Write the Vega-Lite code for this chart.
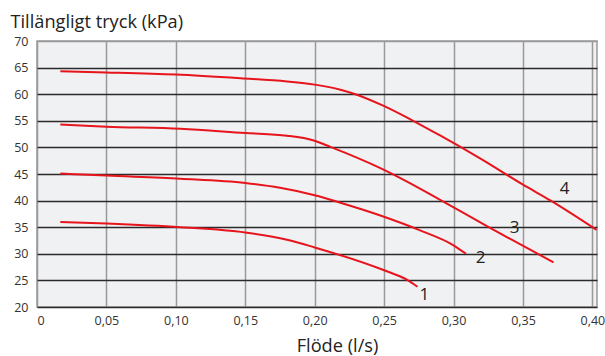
{
  "$schema": "https://vega.github.io/schema/vega-lite/v6.json",
  "autosize": "none",
  "width": 560,
  "height": 266,
  "padding": {"left": 37, "top": 41, "right": 8, "bottom": 49},
  "background": "white",
  "config": {
    "font": "Open Sans",
    "view": {"fill": "#f0f1f3", "stroke": "#9a9a9a", "strokeWidth": 1.5}
  },
  "datasets": {
    "curves": [
      {"curve": "4", "q": 0.0168, "p": 64.3},
      {"curve": "4", "q": 0.05, "p": 64.1},
      {"curve": "4", "q": 0.10, "p": 63.7},
      {"curve": "4", "q": 0.1466, "p": 63.0},
      {"curve": "4", "q": 0.18, "p": 62.4},
      {"curve": "4", "q": 0.20, "p": 61.8},
      {"curve": "4", "q": 0.2185, "p": 60.85},
      {"curve": "4", "q": 0.2293, "p": 60.0},
      {"curve": "4", "q": 0.2497, "p": 57.8},
      {"curve": "4", "q": 0.2702, "p": 55.1},
      {"curve": "4", "q": 0.2906, "p": 52.2},
      {"curve": "4", "q": 0.32, "p": 47.8},
      {"curve": "4", "q": 0.35, "p": 43.0},
      {"curve": "4", "q": 0.37, "p": 40.0},
      {"curve": "4", "q": 0.403, "p": 34.5},
      {"curve": "3", "q": 0.0168, "p": 54.3},
      {"curve": "3", "q": 0.05, "p": 53.9},
      {"curve": "3", "q": 0.1034, "p": 53.5},
      {"curve": "3", "q": 0.15, "p": 52.7},
      {"curve": "3", "q": 0.18, "p": 52.2},
      {"curve": "3", "q": 0.1993, "p": 51.3},
      {"curve": "3", "q": 0.2113, "p": 50.1},
      {"curve": "3", "q": 0.2473, "p": 46.1},
      {"curve": "3", "q": 0.2641, "p": 43.9},
      {"curve": "3", "q": 0.29, "p": 40.2},
      {"curve": "3", "q": 0.324, "p": 35.2},
      {"curve": "3", "q": 0.372, "p": 28.4},
      {"curve": "2", "q": 0.0168, "p": 45.1},
      {"curve": "2", "q": 0.05, "p": 44.7},
      {"curve": "2", "q": 0.1034, "p": 44.1},
      {"curve": "2", "q": 0.15, "p": 43.3},
      {"curve": "2", "q": 0.175, "p": 42.4},
      {"curve": "2", "q": 0.20, "p": 41.0},
      {"curve": "2", "q": 0.2185, "p": 39.6},
      {"curve": "2", "q": 0.2473, "p": 37.2},
      {"curve": "2", "q": 0.275, "p": 34.5},
      {"curve": "2", "q": 0.30, "p": 31.6},
      {"curve": "2", "q": 0.309, "p": 30.0},
      {"curve": "1", "q": 0.0168, "p": 36.0},
      {"curve": "1", "q": 0.05, "p": 35.7},
      {"curve": "1", "q": 0.1034, "p": 35.0},
      {"curve": "1", "q": 0.15, "p": 34.0},
      {"curve": "1", "q": 0.18, "p": 32.65},
      {"curve": "1", "q": 0.20, "p": 31.2},
      {"curve": "1", "q": 0.25, "p": 26.9},
      {"curve": "1", "q": 0.2666, "p": 25.1},
      {"curve": "1", "q": 0.274, "p": 23.8}
    ],
    "labels": [
      {"curve": "1", "q": 0.279, "p": 22.3},
      {"curve": "2", "q": 0.3195, "p": 29.3},
      {"curve": "3", "q": 0.344, "p": 34.9},
      {"curve": "4", "q": 0.38, "p": 42.2}
    ]
  },
  "encoding": {
    "x": {
      "field": "q", "type": "quantitative",
      "scale": {"domain": [0, 0.4033], "nice": false, "zero": false},
      "axis": {
        "values": [0, 0.05, 0.10, 0.15, 0.20, 0.25, 0.30, 0.35, 0.40],
        "labelExpr": "datum.value == 0 ? '0' : replace(format(datum.value, '.2f'), '.', ',')",
        "domain": false, "ticks": false, "labelPadding": 7, "labelOverlap": false,
        "labelFontSize": 12.5, "labelColor": "#333",
        "grid": true, "gridColor": "#9a9a9a", "gridWidth": 1.5, "gridOpacity": 1,
        "title": "Flöde (l/s)", "titleFontSize": 18.2, "titleFontWeight": "normal",
        "titleColor": "#222", "titleX": 300, "titleY": 44, "titleBaseline": "alphabetic", "titleAlign": "center"
      }
    },
    "y": {
      "field": "p", "type": "quantitative",
      "scale": {"domain": [20, 70], "nice": false, "zero": false},
      "axis": {
        "values": [20, 25, 30, 35, 40, 45, 50, 55, 60, 65, 70],
        "domain": false, "ticks": false, "labelPadding": 9, "labelOverlap": false,
        "labelFontSize": 12.5, "labelColor": "#333",
        "grid": true,
        "gridColor": {"condition": {"test": "datum.value == 70", "value": "#9a9a9a"}, "value": "#2a2a2a"},
        "gridWidth": 1.5, "gridOpacity": 1,
        "title": "Tillängligt tryck (kPa)", "titleFontSize": 18.2, "titleFontWeight": "normal",
        "titleColor": "#222", "titleAngle": 0, "titleAlign": "left", "titleBaseline": "alphabetic",
        "titleX": -27, "titleY": -14
      }
    }
  },
  "layer": [
    {
      "data": {"name": "curves"},
      "mark": {"type": "line", "color": "#e8141c", "strokeWidth": 2, "interpolate": "monotone", "clip": true},
      "encoding": {
        "detail": {"field": "curve"}
      }
    },
    {
      "data": {"name": "labels"},
      "mark": {"type": "text", "fontSize": 17, "color": "#222"},
      "encoding": {
        "text": {"field": "curve"}
      }
    }
  ]
}
